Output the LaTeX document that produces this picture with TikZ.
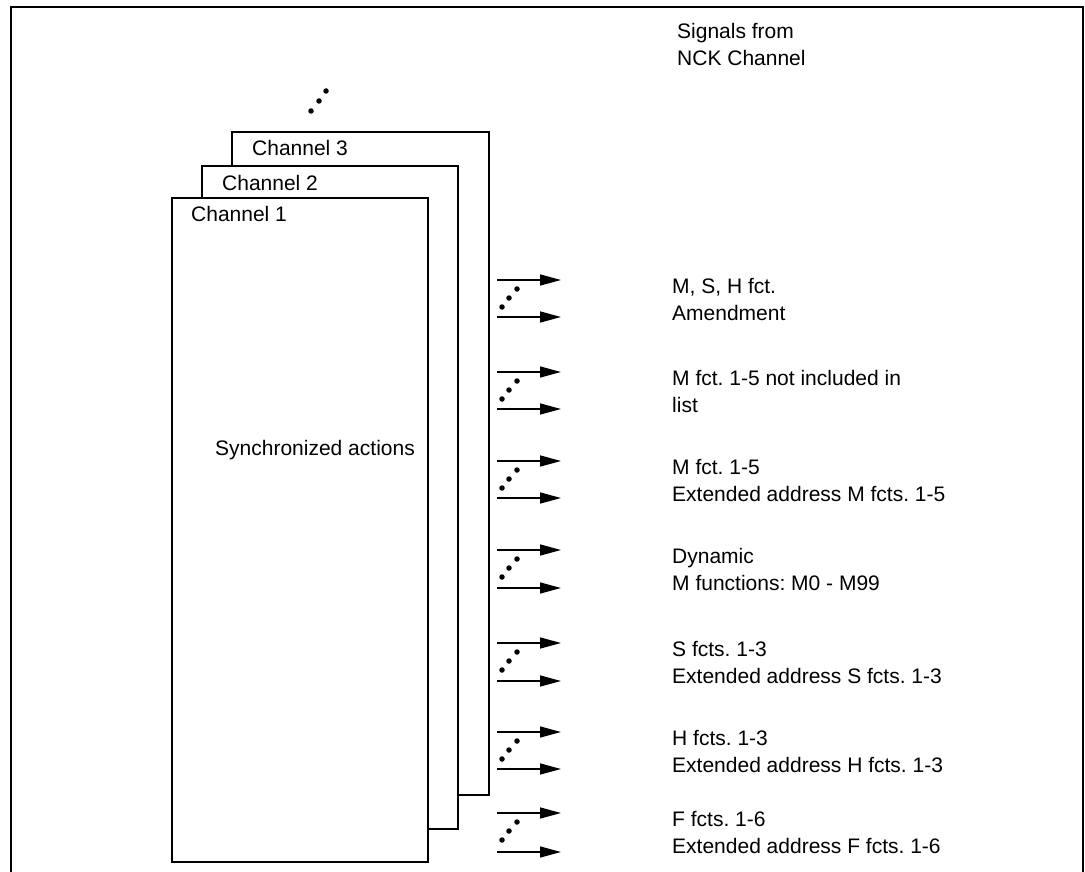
\documentclass[tikz,border=0pt]{standalone}
\usepackage{fontspec}
\setmainfont{Liberation Sans}
\usetikzlibrary{arrows.meta}
\frenchspacing
\begin{document}
\begin{tikzpicture}[x=1pt,y=-1pt,
  chbox/.style={draw,fill=white,line width=1.5pt,outer sep=0pt,inner sep=0pt,anchor=north west},
  lbl/.style={anchor=base west,inner sep=0pt,font=\fontsize{21}{27}\selectfont,align=left},
  sig/.style={line width=1.5pt,-{Triangle[length=21pt,width=11pt]}},
  dotm/.style={circle,fill,inner sep=0pt,minimum size=5.5pt}]
\useasboundingbox (0,0) rectangle (1085,872);
\draw[line width=2pt] (11,872) -- (11,7) -- (1083,7) -- (1083,872);
% top dots
\node[dotm] (td1) at (311,111) {};
\node[dotm] (td2) at (319,101) {};
\node[dotm] (td3) at (326,91) {};
% channel boxes
\node[chbox,minimum width=257pt,minimum height=663pt] (ch3) at (232,132) {};
\node[lbl] (ch3l) at (252,156) {Channel 3};
\node[chbox,minimum width=256pt,minimum height=663pt] (ch2) at (202,166) {};
\node[lbl] (ch2l) at (222,190) {Channel 2};
\node[chbox,minimum width=256pt,minimum height=664pt] (ch1) at (172,198) {};
\node[lbl] (ch1l) at (191,222) {Channel 1};
\node[lbl] (sync) at (215,455) {Synchronized actions};
% header
\node[lbl] (hdr) at (677,66) {Signals from\\NCK Channel};
% signal groups
\foreach \ya/\yb/\txt [count=\i] in {
  280/317/{M, S, H fct.\\Amendment},
  372/409/{M fct. 1-5 not included in\\list},
  461/498/{M fct. 1-5\\Extended address M fcts. 1-5},
  550/588/{Dynamic\\M functions: M0 - M99},
  643/681/{S fcts. 1-3\\Extended address S fcts. 1-3},
  732/769/{H fcts. 1-3\\Extended address H fcts. 1-3},
  813/852/{F fcts. 1-6\\Extended address F fcts. 1-6}} {
  \coordinate (s\i a) at (497,\ya);
  \coordinate (e\i a) at (561,\ya);
  \coordinate (s\i b) at (497,\yb);
  \coordinate (e\i b) at (561,\yb);
  \draw[sig] (s\i a) -- (e\i a);
  \draw[sig] (s\i b) -- (e\i b);
  \node[dotm] (d\i a) at (517,\ya+9) {};
  \node[dotm] (d\i b) at (509,\ya+18) {};
  \node[dotm] (d\i c) at (502,\ya+27) {};
  \node[lbl] (t\i) at (672,\ya+40) {\txt};
}
\end{tikzpicture}
\end{document}
